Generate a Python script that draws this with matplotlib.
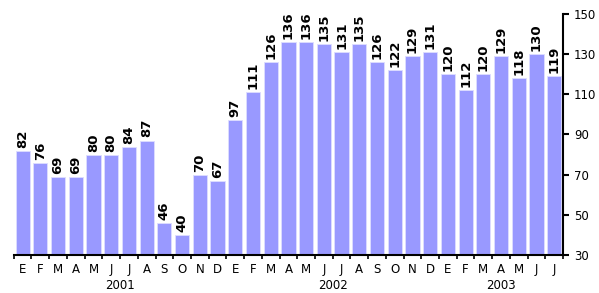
import numpy as np
import matplotlib.pyplot as plt

meses = ["E", "F", "M", "A", "M", "J", "J", "A", "S", "O", "N", "D"]
meses_2003 = meses[:7]
anios = ["2001", "2002", "2003"]
valores = [82, 76, 69, 69, 80, 80, 84, 87, 46, 40, 70, 67,
           97, 111, 126, 136, 136, 135, 131, 135, 126, 122, 129, 131,
           120, 112, 120, 129, 118, 130, 119]

etiquetas = meses + meses + meses_2003
x = np.arange(len(valores))

fig = plt.figure(figsize=(5.99, 2.93), dpi=100)
ax = fig.add_axes([0.023, 0.13, 0.917, 0.822])

ax.bar(x, np.array(valores) - 30, bottom=30, width=0.8, color="#9999ff",
       edgecolor="#ddddff", linewidth=0.6)
for xi, v in zip(x, valores):
    ax.text(xi, v + 1.5, str(v), rotation=90, ha="center", va="bottom",
            fontsize=9.5, fontweight="bold")

ax.set_xlim(-0.5, len(valores) - 0.5)
ax.set_ylim(30, 150)
ax.yaxis.tick_right()
ax.set_yticks(range(30, 151, 20))
ax.tick_params(axis="y", labelsize=8.5, length=4, width=1.5, pad=4)

ax.set_xticks(np.arange(-0.5, len(valores), 1))
ax.set_xticklabels([])
ax.tick_params(axis="x", length=3, width=1.2)
ax.set_xticks(x, minor=True)
ax.set_xticklabels(etiquetas, minor=True)
ax.tick_params(axis="x", which="minor", length=0, labelsize=8.5, pad=6)

for i, a in enumerate(anios):
    n = 12 if i < 2 else 7
    centro = i * 12 + (n - 1) / 2
    ax.text(centro, -0.098, a, transform=ax.get_xaxis_transform(),
            ha="center", va="top", fontsize=8.5)

for lado in ["top", "left"]:
    ax.spines[lado].set_visible(False)
ax.spines["right"].set_linewidth(1.5)
ax.spines["bottom"].set_linewidth(1.5)

fig.savefig("out.png", dpi=100)
